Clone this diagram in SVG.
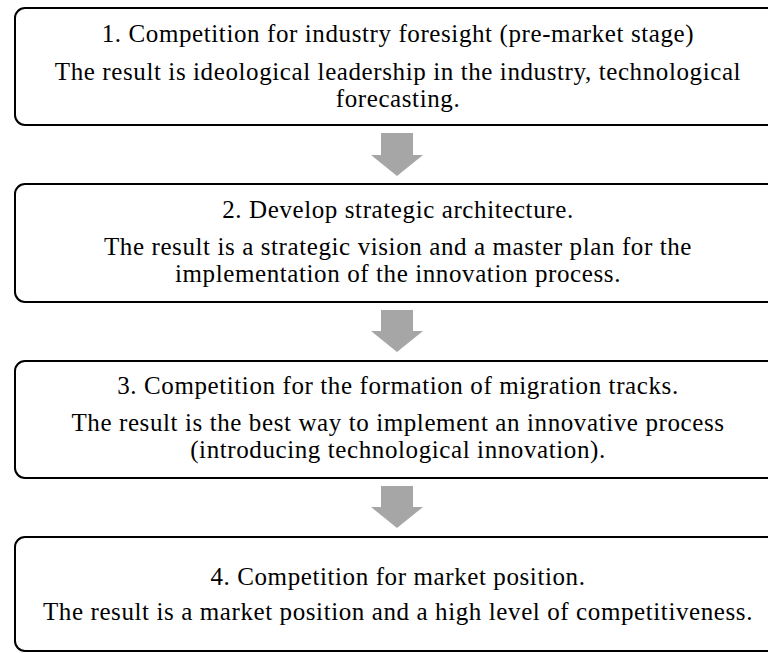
<svg xmlns="http://www.w3.org/2000/svg" width="768" height="653" viewBox="0 0 768 653">
  <style>
    .box { fill: #ffffff; stroke: #000000; stroke-width: 2; }
    .arrow { fill: #a6a6a6; stroke: none; }
    text { font-family: "Liberation Serif", "Times New Roman", serif; font-size: 25px; fill: #000000; text-anchor: middle; letter-spacing: 0.6px; }
  </style>
  <rect width="768" height="653" fill="#ffffff"/>

  <!-- stage connectors -->
  <g id="connectors">
    <polygon class="arrow" points="381,133 413,133 413,155 423,155 397,176 371,155 381,155"/>
    <polygon class="arrow" points="381,310 413,310 413,331 423,331 397,352 371,331 381,331"/>
    <polygon class="arrow" points="381,486 413,486 413,507 423,507 397,528 371,507 381,507"/>
  </g>

  <g id="stage1">
    <rect class="box" x="15" y="8" width="775" height="117" rx="10"/>
    <text x="398" y="42">1. Competition for industry foresight (pre-market stage)</text>
    <text x="398" y="80">The result is ideological leadership in the industry, technological</text>
    <text x="398" y="107">forecasting.</text>
  </g>

  <g id="stage2">
    <rect class="box" x="15" y="184" width="775" height="118" rx="10"/>
    <text x="398" y="218">2. Develop strategic architecture.</text>
    <text x="398" y="255">The result is a strategic vision and a master plan for the</text>
    <text x="398" y="282">implementation of the innovation process.</text>
  </g>

  <g id="stage3">
    <rect class="box" x="15" y="361" width="775" height="117" rx="10"/>
    <text x="398" y="394">3. Competition for the formation of migration tracks.</text>
    <text x="398" y="431">The result is the best way to implement an innovative process</text>
    <text x="398" y="458">(introducing technological innovation).</text>
  </g>

  <g id="stage4">
    <rect class="box" x="15" y="537" width="775" height="114" rx="10"/>
    <text x="398" y="585">4. Competition for market position.</text>
    <text x="398" y="620">The result is a market position and a high level of competitiveness.</text>
  </g>
</svg>
